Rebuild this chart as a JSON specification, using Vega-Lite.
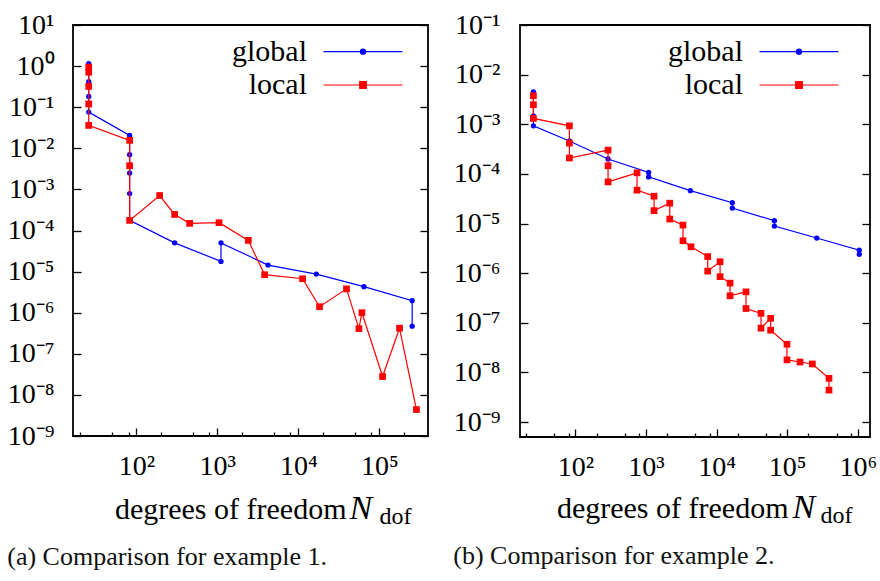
{
  "$schema": "https://vega.github.io/schema/vega-lite/v6.json",
  "background": "white",
  "padding": {"left": 6, "top": 10, "right": 2, "bottom": 0},
  "data": {"values": [
    {"p":"a","m":"global","o":1,"n":25.8,"err":1.15},
    {"p":"a","m":"global","o":2,"n":25.8,"err":0.42},
    {"p":"a","m":"global","o":3,"n":25.8,"err":0.183},
    {"p":"a","m":"global","o":4,"n":25.8,"err":0.076},
    {"p":"a","m":"global","o":5,"n":82.6,"err":0.0206},
    {"p":"a","m":"global","o":6,"n":82.6,"err":0.0070},
    {"p":"a","m":"global","o":7,"n":82.6,"err":0.0025},
    {"p":"a","m":"global","o":8,"n":82.6,"err":0.00079},
    {"p":"a","m":"global","o":9,"n":82.6,"err":0.000177},
    {"p":"a","m":"global","o":10,"n":297,"err":0.000050},
    {"p":"a","m":"global","o":11,"n":1110,"err":0.0000177},
    {"p":"a","m":"global","o":12,"n":1110,"err":0.000050},
    {"p":"a","m":"global","o":13,"n":4230,"err":0.0000144},
    {"p":"a","m":"global","o":14,"n":16700,"err":0.0000087},
    {"p":"a","m":"global","o":15,"n":64700,"err":0.0000043},
    {"p":"a","m":"global","o":16,"n":255000,"err":0.00000196},
    {"p":"a","m":"global","o":17,"n":255000,"err":0.00000047},
    {"p":"a","m":"local","o":1,"n":25.8,"err":0.95},
    {"p":"a","m":"local","o":2,"n":25.8,"err":0.71},
    {"p":"a","m":"local","o":3,"n":25.8,"err":0.32},
    {"p":"a","m":"local","o":4,"n":25.8,"err":0.12},
    {"p":"a","m":"local","o":5,"n":25.8,"err":0.036},
    {"p":"a","m":"local","o":6,"n":82.6,"err":0.0156},
    {"p":"a","m":"local","o":7,"n":82.6,"err":0.00377},
    {"p":"a","m":"local","o":8,"n":82.6,"err":0.000176},
    {"p":"a","m":"local","o":9,"n":194,"err":0.00071},
    {"p":"a","m":"local","o":10,"n":297,"err":0.000246},
    {"p":"a","m":"local","o":11,"n":455,"err":0.000149},
    {"p":"a","m":"local","o":12,"n":1050,"err":0.000155},
    {"p":"a","m":"local","o":13,"n":2415,"err":0.0000575},
    {"p":"a","m":"local","o":14,"n":3840,"err":0.0000084},
    {"p":"a","m":"local","o":15,"n":11300,"err":0.0000067},
    {"p":"a","m":"local","o":16,"n":18300,"err":0.0000014},
    {"p":"a","m":"local","o":17,"n":39400,"err":0.0000038},
    {"p":"a","m":"local","o":18,"n":56100,"err":0.00000041},
    {"p":"a","m":"local","o":19,"n":61100,"err":0.0000010},
    {"p":"a","m":"local","o":20,"n":110000,"err":0.000000028},
    {"p":"a","m":"local","o":21,"n":178000,"err":0.00000042},
    {"p":"a","m":"local","o":22,"n":288000,"err":0.0000000044},
    {"p":"b","m":"global","o":1,"n":25.4,"err":0.0045},
    {"p":"b","m":"global","o":2,"n":25.4,"err":0.00148},
    {"p":"b","m":"global","o":3,"n":25.4,"err":0.00093},
    {"p":"b","m":"global","o":4,"n":82.2,"err":0.00046},
    {"p":"b","m":"global","o":5,"n":290,"err":0.000200},
    {"p":"b","m":"global","o":6,"n":1090,"err":0.000107},
    {"p":"b","m":"global","o":7,"n":1090,"err":0.000087},
    {"p":"b","m":"global","o":8,"n":4250,"err":0.000046},
    {"p":"b","m":"global","o":9,"n":16700,"err":0.0000263},
    {"p":"b","m":"global","o":10,"n":16700,"err":0.0000205},
    {"p":"b","m":"global","o":11,"n":65900,"err":0.0000114},
    {"p":"b","m":"global","o":12,"n":65900,"err":0.0000089},
    {"p":"b","m":"global","o":13,"n":262000,"err":0.0000051},
    {"p":"b","m":"global","o":14,"n":1050000,"err":0.0000029},
    {"p":"b","m":"global","o":15,"n":1050000,"err":0.0000024},
    {"p":"b","m":"local","o":1,"n":25.4,"err":0.00376},
    {"p":"b","m":"local","o":2,"n":25.4,"err":0.00247},
    {"p":"b","m":"local","o":3,"n":25.4,"err":0.00131},
    {"p":"b","m":"local","o":4,"n":82.2,"err":0.00093},
    {"p":"b","m":"local","o":5,"n":82.2,"err":0.000418},
    {"p":"b","m":"local","o":6,"n":82.2,"err":0.000209},
    {"p":"b","m":"local","o":7,"n":290,"err":0.000302},
    {"p":"b","m":"local","o":8,"n":290,"err":0.000146},
    {"p":"b","m":"local","o":9,"n":290,"err":0.000069},
    {"p":"b","m":"local","o":10,"n":746,"err":0.000105},
    {"p":"b","m":"local","o":11,"n":746,"err":0.000047},
    {"p":"b","m":"local","o":12,"n":1300,"err":0.0000355},
    {"p":"b","m":"local","o":13,"n":1300,"err":0.0000182},
    {"p":"b","m":"local","o":14,"n":2170,"err":0.0000257},
    {"p":"b","m":"local","o":15,"n":2170,"err":0.0000123},
    {"p":"b","m":"local","o":16,"n":3340,"err":0.0000093},
    {"p":"b","m":"local","o":17,"n":3340,"err":0.0000045},
    {"p":"b","m":"local","o":18,"n":4340,"err":0.0000034},
    {"p":"b","m":"local","o":19,"n":7480,"err":0.00000216},
    {"p":"b","m":"local","o":20,"n":7480,"err":0.0000011},
    {"p":"b","m":"local","o":21,"n":11200,"err":0.0000017},
    {"p":"b","m":"local","o":22,"n":11200,"err":0.00000085},
    {"p":"b","m":"local","o":23,"n":15500,"err":0.00000063},
    {"p":"b","m":"local","o":24,"n":15500,"err":0.00000035},
    {"p":"b","m":"local","o":25,"n":26100,"err":0.00000042},
    {"p":"b","m":"local","o":26,"n":26100,"err":0.000000194},
    {"p":"b","m":"local","o":27,"n":42600,"err":0.000000155},
    {"p":"b","m":"local","o":28,"n":42600,"err":0.000000078},
    {"p":"b","m":"local","o":29,"n":58300,"err":0.000000123},
    {"p":"b","m":"local","o":30,"n":58300,"err":0.000000071},
    {"p":"b","m":"local","o":31,"n":99300,"err":0.000000037},
    {"p":"b","m":"local","o":32,"n":99300,"err":0.0000000179},
    {"p":"b","m":"local","o":33,"n":152000,"err":0.0000000162},
    {"p":"b","m":"local","o":34,"n":227000,"err":0.0000000148},
    {"p":"b","m":"local","o":35,"n":391000,"err":0.0000000076},
    {"p":"b","m":"local","o":36,"n":391000,"err":0.0000000044}
  ]},
  "resolve": {"scale": {"color": "independent", "x": "independent", "y": "independent"}},
  "spacing": 22,
  "hconcat": [
    {
      "width": 355, "height": 411,
      "view": {"stroke": "black", "strokeWidth": 1.8},
      "title": {"text": "(a) Comparison for example 1.", "orient": "bottom", "anchor": "start", "offset": 16, "font": "Times New Roman", "fontSize": 26, "fontWeight": "normal", "color": "#111111"},
      "resolve": {"axis": {"x": "independent", "y": "independent"}},
      "encoding": {
        "color": {"field": "m", "type": "nominal", "scale": {"domain": ["global", "local"], "range": ["#0000ff", "#ff0000"]},
          "legend": {"orient": "none", "legendX": 274, "legendY": 10.7, "title": null, "padding": 0, "symbolSize": 900, "symbolStrokeWidth": 1.2, "labelFont": "Times New Roman", "labelFontSize": 30, "labelFontWeight": "normal", "labelAlign": "right", "labelOffset": -72, "labelColor": "black", "rowPadding": 2.3, "labelLimit": 0,
            "encode": {"symbols": {"update": {
              "shape": {"signal": "datum.value == 'global' ? 'M-2.63,0H2.63M-0.17,0A0.17,0.17 0 1 1 0.17,0A0.17,0.17 0 1 1 -0.17,0Z' : 'M-2.63,0H2.63M-0.22,-0.22H0.22V0.22H-0.22Z'"},
              "fill": {"signal": "datum.value == 'global' ? '#0000ff' : '#ff0000'"},
              "stroke": {"signal": "datum.value == 'global' ? '#0000ff' : '#ff0000'"},
              "strokeWidth": {"value": 1.2},
              "opacity": {"value": 1}}}}}},
        "order": {"field": "o", "type": "quantitative"}
      },
      "layer": [
        {
          "transform": [{"filter": "datum.p == 'a' && datum.m == 'global'"}],
          "mark": {"type": "line", "strokeWidth": 1.2},
          "encoding": {
            "x": {"field": "n", "type": "quantitative", "scale": {"type": "log", "domain": [16.5, 400000], "nice": false},
              "axis": {"orient": "bottom", "domain": false, "grid": false, "tickColor": "black", "tickWidth": 1.3, "labelColor": "black", "labelOverlap": false, "labelFlush": false,
                "values": [100, 1000, 10000, 100000], "tickSize": -8, "labelPadding": 24, "labelBaseline": "top", "labelFont": "Times New Roman", "labelFontSize": 28,
                "labelExpr": "'10' + ['⁻⁹','⁻⁸','⁻⁷','⁻⁶','⁻⁵','⁻⁴','⁻³','⁻²','⁻¹','⁰','¹','²','³','⁴','⁵','⁶'][round(log(datum.value)/LN10)+9]",
                "title": "degrees of freedom", "titleColor": "black", "titleFont": "Times New Roman", "titleFontSize": 30, "titleFontWeight": "normal", "titleX": 273, "titleY": 82, "titleAlign": "right", "titleBaseline": "alphabetic"}},
            "y": {"field": "err", "type": "quantitative", "scale": {"type": "log", "domain": [1e-9, 10], "nice": false},
              "axis": {"orient": "left", "domain": false, "grid": false, "tickColor": "black", "tickWidth": 1.3, "labelColor": "black", "labelOverlap": false, "labelFlush": false,
                "values": [1e-9, 1e-8, 1e-7, 1e-6, 1e-5, 1e-4, 1e-3, 1e-2, 1e-1, 1, 10], "tickSize": -8, "labelPadding": 27, "labelFont": "Times New Roman", "labelFontSize": 28,
                "labelExpr": "'10' + ['⁻⁹','⁻⁸','⁻⁷','⁻⁶','⁻⁵','⁻⁴','⁻³','⁻²','⁻¹','⁰','¹','²','³','⁴','⁵','⁶'][round(log(datum.value)/LN10)+9]",
                "title": null}}
          }
        },
        {
          "transform": [{"filter": "datum.p == 'a' && datum.m == 'global'"}],
          "mark": {"type": "point", "filled": true, "shape": "circle", "size": 28, "opacity": 1},
          "encoding": {
            "x": {"field": "n", "type": "quantitative", "scale": {"type": "log", "domain": [16.5, 400000], "nice": false},
              "axis": {"orient": "bottom", "domain": false, "grid": false, "tickColor": "black", "tickWidth": 1.3,
                "values": [20, 50, 80, 200, 500, 800, 2000, 5000, 8000, 20000, 50000, 80000, 200000], "tickSize": -4, "labels": false,
                "title": "N", "titleColor": "black", "titleFont": "Times New Roman", "titleFontSize": 34, "titleFontWeight": "normal", "titleFontStyle": "italic", "titleX": 276, "titleY": 82, "titleAlign": "left", "titleBaseline": "alphabetic"}},
            "y": {"field": "err", "type": "quantitative", "scale": {"type": "log", "domain": [1e-9, 10], "nice": false},
              "axis": {"orient": "right", "domain": false, "grid": false, "tickColor": "black", "tickWidth": 1.3,
                "values": [1e-9, 1e-8, 1e-7, 1e-6, 1e-5, 1e-4, 1e-3, 1e-2, 1e-1, 1, 10], "tickSize": -8, "labels": false, "title": null}}
          }
        },
        {
          "transform": [{"filter": "datum.p == 'a' && datum.m == 'local'"}],
          "mark": {"type": "line", "strokeWidth": 1.2},
          "encoding": {
            "x": {"field": "n", "type": "quantitative", "scale": {"type": "log", "domain": [16.5, 400000], "nice": false},
              "axis": {"orient": "bottom", "domain": false, "grid": false, "ticks": false, "labels": false, "title": "dof", "titleColor": "black", "titleFont": "Times New Roman", "titleFontSize": 24, "titleFontWeight": "normal", "titleX": 306, "titleY": 87, "titleAlign": "left", "titleBaseline": "alphabetic"}},
            "y": {"field": "err", "type": "quantitative", "scale": {"type": "log", "domain": [1e-9, 10], "nice": false}, "axis": null}
          }
        },
        {
          "transform": [{"filter": "datum.p == 'a' && datum.m == 'local'"}],
          "mark": {"type": "point", "filled": true, "shape": "square", "size": 45, "opacity": 1},
          "encoding": {
            "x": {"field": "n", "type": "quantitative", "scale": {"type": "log", "domain": [16.5, 400000], "nice": false}, "axis": null},
            "y": {"field": "err", "type": "quantitative", "scale": {"type": "log", "domain": [1e-9, 10], "nice": false}, "axis": null}
          }
        }
      ]
    },
    {
      "width": 350, "height": 412,
      "view": {"stroke": "black", "strokeWidth": 1.8},
      "title": {"text": "(b) Comparison for example 2.", "orient": "bottom", "anchor": "start", "offset": 16, "font": "Times New Roman", "fontSize": 26, "fontWeight": "normal", "color": "#111111"},
      "resolve": {"axis": {"x": "independent", "y": "independent"}},
      "encoding": {
        "color": {"field": "m", "type": "nominal", "scale": {"domain": ["global", "local"], "range": ["#0000ff", "#ff0000"]},
          "legend": {"orient": "none", "legendX": 263, "legendY": 10.7, "title": null, "padding": 0, "symbolSize": 900, "symbolStrokeWidth": 1.2, "labelFont": "Times New Roman", "labelFontSize": 30, "labelFontWeight": "normal", "labelAlign": "right", "labelOffset": -72, "labelColor": "black", "rowPadding": 2.3, "labelLimit": 0,
            "encode": {"symbols": {"update": {
              "shape": {"signal": "datum.value == 'global' ? 'M-2.63,0H2.63M-0.17,0A0.17,0.17 0 1 1 0.17,0A0.17,0.17 0 1 1 -0.17,0Z' : 'M-2.63,0H2.63M-0.22,-0.22H0.22V0.22H-0.22Z'"},
              "fill": {"signal": "datum.value == 'global' ? '#0000ff' : '#ff0000'"},
              "stroke": {"signal": "datum.value == 'global' ? '#0000ff' : '#ff0000'"},
              "strokeWidth": {"value": 1.2},
              "opacity": {"value": 1}}}}}},
        "order": {"field": "o", "type": "quantitative"}
      },
      "layer": [
        {
          "transform": [{"filter": "datum.p == 'b' && datum.m == 'global'"}],
          "mark": {"type": "line", "strokeWidth": 1.2},
          "encoding": {
            "x": {"field": "n", "type": "quantitative", "scale": {"type": "log", "domain": [16.4, 1490000], "nice": false},
              "axis": {"orient": "bottom", "domain": false, "grid": false, "tickColor": "black", "tickWidth": 1.3, "labelColor": "black", "labelOverlap": false, "labelFlush": false,
                "values": [100, 1000, 10000, 100000, 1000000], "tickSize": -8, "labelPadding": 24, "labelBaseline": "top", "labelFont": "Times New Roman", "labelFontSize": 28,
                "labelExpr": "'10' + ['⁻⁹','⁻⁸','⁻⁷','⁻⁶','⁻⁵','⁻⁴','⁻³','⁻²','⁻¹','⁰','¹','²','³','⁴','⁵','⁶'][round(log(datum.value)/LN10)+9]",
                "title": "degrees of freedom", "titleColor": "black", "titleFont": "Times New Roman", "titleFontSize": 30, "titleFontWeight": "normal", "titleX": 268, "titleY": 80, "titleAlign": "right", "titleBaseline": "alphabetic"}},
            "y": {"field": "err", "type": "quantitative", "scale": {"type": "log", "domain": [5e-10, 0.1], "nice": false},
              "axis": {"orient": "left", "domain": false, "grid": false, "tickColor": "black", "tickWidth": 1.3, "labelColor": "black", "labelOverlap": false, "labelFlush": false,
                "values": [1e-9, 1e-8, 1e-7, 1e-6, 1e-5, 1e-4, 1e-3, 1e-2, 1e-1], "tickSize": -8, "labelPadding": 28, "labelFont": "Times New Roman", "labelFontSize": 28,
                "labelExpr": "'10' + ['⁻⁹','⁻⁸','⁻⁷','⁻⁶','⁻⁵','⁻⁴','⁻³','⁻²','⁻¹','⁰','¹','²','³','⁴','⁵','⁶'][round(log(datum.value)/LN10)+9]",
                "title": null}}
          }
        },
        {
          "transform": [{"filter": "datum.p == 'b' && datum.m == 'global'"}],
          "mark": {"type": "point", "filled": true, "shape": "circle", "size": 28, "opacity": 1},
          "encoding": {
            "x": {"field": "n", "type": "quantitative", "scale": {"type": "log", "domain": [16.4, 1490000], "nice": false},
              "axis": {"orient": "bottom", "domain": false, "grid": false, "tickColor": "black", "tickWidth": 1.3,
                "values": [20, 50, 80, 200, 500, 800, 2000, 5000, 8000, 20000, 50000, 80000, 200000, 500000, 800000], "tickSize": -4, "labels": false,
                "title": "N", "titleColor": "black", "titleFont": "Times New Roman", "titleFontSize": 34, "titleFontWeight": "normal", "titleFontStyle": "italic", "titleX": 272, "titleY": 80, "titleAlign": "left", "titleBaseline": "alphabetic"}},
            "y": {"field": "err", "type": "quantitative", "scale": {"type": "log", "domain": [5e-10, 0.1], "nice": false},
              "axis": {"orient": "right", "domain": false, "grid": false, "tickColor": "black", "tickWidth": 1.3,
                "values": [1e-9, 1e-8, 1e-7, 1e-6, 1e-5, 1e-4, 1e-3, 1e-2, 1e-1], "tickSize": -8, "labels": false, "title": null}}
          }
        },
        {
          "transform": [{"filter": "datum.p == 'b' && datum.m == 'local'"}],
          "mark": {"type": "line", "strokeWidth": 1.2},
          "encoding": {
            "x": {"field": "n", "type": "quantitative", "scale": {"type": "log", "domain": [16.4, 1490000], "nice": false},
              "axis": {"orient": "bottom", "domain": false, "grid": false, "ticks": false, "labels": false, "title": "dof", "titleColor": "black", "titleFont": "Times New Roman", "titleFontSize": 24, "titleFontWeight": "normal", "titleX": 300, "titleY": 85, "titleAlign": "left", "titleBaseline": "alphabetic"}},
            "y": {"field": "err", "type": "quantitative", "scale": {"type": "log", "domain": [5e-10, 0.1], "nice": false}, "axis": null}
          }
        },
        {
          "transform": [{"filter": "datum.p == 'b' && datum.m == 'local'"}],
          "mark": {"type": "point", "filled": true, "shape": "square", "size": 45, "opacity": 1},
          "encoding": {
            "x": {"field": "n", "type": "quantitative", "scale": {"type": "log", "domain": [16.4, 1490000], "nice": false}, "axis": null},
            "y": {"field": "err", "type": "quantitative", "scale": {"type": "log", "domain": [5e-10, 0.1], "nice": false}, "axis": null}
          }
        }
      ]
    }
  ]
}
